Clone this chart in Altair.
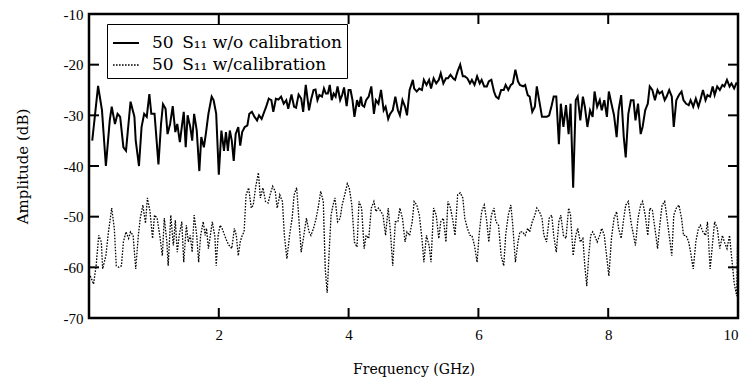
import altair as alt
import pandas as pd

# Series 1: 50 S11 without calibration (solid)
freq_wo = [0.05,0.14,0.20,0.26,0.32,0.35,0.40,0.44,0.48,0.53,0.57,0.64,0.70,0.72,0.77,0.81,0.85,0.89,0.93,0.96,
           1.01,1.07,1.11,1.14,1.18,1.21,1.25,1.29,1.33,1.36,1.40,1.43,1.46,1.49,1.52,1.56,1.59,1.62,1.66,1.70,
           1.73,1.77,1.80,1.84,1.89,1.92,1.96,2.00,2.04,2.08,2.11,2.14,2.17,2.20,2.23,2.26,2.30,2.33,2.36,2.40,
           2.44,2.47,2.51,2.55,2.59,2.62,2.66,2.70,2.73,2.77,2.81,2.84,2.88,2.92,2.96,3.00,3.04,3.07,3.12,3.16,
           3.19,3.23,3.27,3.30,3.34,3.39,3.42,3.46,3.49,3.52,3.55,3.59,3.62,3.65,3.68,3.71,3.74,3.77,3.80,3.83,
           3.87,3.90,3.93,3.97,4.00,4.03,4.06,4.09,4.13,4.16,4.19,4.21,4.24,4.27,4.31,4.35,4.39,4.42,4.46,4.50,
           4.54,4.57,4.61,4.64,4.68,4.72,4.76,4.79,4.83,4.87,4.90,4.94,4.99,5.01,5.05,5.09,5.13,5.16,5.20,5.24,
           5.27,5.31,5.35,5.39,5.42,5.46,5.50,5.53,5.57,5.61,5.64,5.68,5.72,5.76,5.79,5.83,5.87,5.90,5.94,5.98,
           6.02,6.05,6.09,6.13,6.16,6.20,6.24,6.27,6.31,6.35,6.39,6.42,6.46,6.50,6.53,6.57,6.61,6.64,6.69,6.72,
           6.76,6.79,6.83,6.87,6.90,6.94,6.98,7.01,7.05,7.09,7.13,7.16,7.20,7.24,7.27,7.31,7.35,7.39,7.42,7.46,
           7.50,7.53,7.57,7.61,7.64,7.68,7.72,7.76,7.79,7.83,7.87,7.90,7.94,7.98,8.01,8.05,8.09,8.13,8.16,8.20,
           8.24,8.27,8.31,8.35,8.39,8.42,8.46,8.50,8.53,8.57,8.61,8.64,8.68,8.72,8.76,8.79,8.83,8.87,8.90,8.94,
           8.98,9.01,9.05,9.09,9.13,9.16,9.20,9.24,9.27,9.31,9.35,9.39,9.42,9.46,9.50,9.53,9.57,9.61,9.64,9.68,
           9.72,9.76,9.79,9.83,9.87,9.90,9.94,9.98]
amp_wo = [-35.0,-24.2,-29.0,-40.0,-31.0,-28.3,-31.7,-29.7,-30.3,-36.3,-37.0,-27.3,-30.3,-35.0,-40.0,-32.3,-29.7,-30.3,-25.8,-29.7,
          -29.7,-39.7,-31.7,-27.8,-28.7,-33.7,-31.7,-28.2,-33.3,-31.7,-35.3,-32.3,-29.3,-36.3,-30.0,-32.3,-35.0,-29.7,-33.0,-41.0,
          -34.3,-36.3,-33.7,-29.7,-26.3,-27.0,-29.7,-41.7,-33.0,-37.0,-33.3,-37.0,-33.0,-35.0,-39.0,-33.7,-32.3,-36.0,-33.3,-32.3,
          -32.0,-29.7,-29.3,-30.3,-31.0,-30.0,-30.7,-29.3,-28.3,-26.7,-27.0,-29.3,-26.7,-26.9,-26.3,-27.7,-27.0,-28.7,-25.9,-28.3,
          -28.5,-25.9,-26.7,-29.3,-24.0,-29.0,-27.0,-25.0,-24.9,-27.0,-26.0,-26.3,-24.7,-25.7,-25.7,-24.0,-27.0,-25.7,-26.3,-24.3,
          -27.0,-26.0,-24.5,-28.2,-25.0,-25.0,-27.0,-30.3,-27.0,-28.3,-26.3,-28.0,-28.3,-27.0,-26.3,-24.3,-29.7,-27.0,-27.7,-25.0,
          -29.0,-28.3,-30.7,-29.7,-29.0,-26.3,-29.0,-30.0,-27.0,-28.3,-30.0,-25.0,-23.0,-24.7,-25.3,-24.7,-25.0,-23.0,-24.0,-23.0,
          -24.7,-22.7,-23.7,-23.0,-21.7,-23.7,-22.7,-22.7,-22.0,-22.7,-23.0,-21.3,-20.0,-22.3,-22.3,-22.7,-23.7,-23.0,-24.0,-22.3,
          -23.7,-23.0,-24.3,-24.3,-23.3,-23.0,-25.3,-26.3,-26.7,-25.0,-25.0,-24.0,-25.0,-24.0,-23.7,-21.0,-23.3,-24.0,-24.3,-24.0,
          -26.0,-26.3,-29.3,-28.3,-24.3,-27.3,-30.3,-30.3,-30.3,-30.0,-28.0,-26.3,-26.3,-35.7,-27.7,-32.3,-28.0,-33.7,-27.7,-44.3,
          -27.0,-26.3,-31.0,-26.3,-28.3,-32.3,-29.0,-30.3,-25.3,-28.3,-27.0,-29.0,-27.0,-30.3,-25.3,-27.7,-30.0,-34.3,-29.0,-26.0,
          -34.3,-38.3,-29.7,-27.0,-27.0,-31.0,-27.7,-33.7,-32.3,-29.0,-27.7,-24.3,-25.0,-27.0,-25.0,-25.7,-25.3,-27.0,-26.3,-25.0,
          -26.3,-32.3,-27.0,-26.0,-25.3,-27.0,-27.7,-28.0,-27.0,-28.3,-26.7,-28.3,-27.0,-25.0,-27.0,-26.0,-26.3,-24.3,-26.0,-24.3,
          -25.0,-24.0,-24.3,-23.0,-24.3,-23.7,-24.7,-23.5]

# Series 2: 50 S11 with calibration (dotted)
freq_w = [0.02,0.04,0.07,0.11,0.15,0.19,0.21,0.26,0.30,0.35,0.39,0.42,0.46,0.50,0.53,0.57,0.61,0.64,0.68,0.72,
          0.76,0.79,0.83,0.87,0.90,0.94,0.98,1.01,1.05,1.09,1.13,1.16,1.20,1.22,1.26,1.30,1.33,1.36,1.39,1.43,
          1.46,1.50,1.53,1.56,1.59,1.62,1.66,1.69,1.72,1.76,1.79,1.81,1.84,1.87,1.90,1.94,1.96,1.99,2.02,2.05,
          2.09,2.13,2.16,2.20,2.24,2.27,2.30,2.33,2.36,2.39,2.42,2.46,2.50,2.53,2.57,2.61,2.64,2.68,2.72,2.76,
          2.79,2.83,2.87,2.90,2.94,2.98,3.01,3.05,3.09,3.13,3.16,3.20,3.24,3.27,3.31,3.35,3.39,3.42,3.46,3.50,
          3.53,3.57,3.61,3.64,3.67,3.70,3.73,3.76,3.79,3.83,3.87,3.90,3.94,3.98,4.01,4.05,4.09,4.13,4.16,4.20,
          4.24,4.27,4.31,4.35,4.39,4.42,4.46,4.50,4.53,4.57,4.61,4.64,4.68,4.72,4.76,4.79,4.83,4.87,4.90,4.94,
          4.98,5.01,5.05,5.09,5.13,5.16,5.20,5.24,5.27,5.31,5.35,5.39,5.42,5.46,5.50,5.53,5.57,5.61,5.64,5.68,
          5.72,5.76,5.79,5.83,5.87,5.90,5.94,5.98,6.01,6.05,6.09,6.13,6.16,6.20,6.24,6.27,6.31,6.35,6.39,6.42,
          6.46,6.50,6.53,6.57,6.61,6.64,6.68,6.72,6.76,6.79,6.83,6.87,6.90,6.94,6.98,7.01,7.05,7.09,7.13,7.16,
          7.20,7.24,7.27,7.31,7.35,7.39,7.42,7.46,7.50,7.53,7.57,7.61,7.64,7.67,7.70,7.73,7.76,7.79,7.83,7.87,
          7.90,7.94,7.98,8.01,8.05,8.09,8.13,8.16,8.20,8.24,8.27,8.31,8.35,8.39,8.42,8.46,8.50,8.53,8.57,8.61,
          8.64,8.68,8.72,8.76,8.79,8.83,8.87,8.90,8.94,8.98,9.01,9.05,9.09,9.13,9.16,9.20,9.24,9.27,9.31,9.35,
          9.39,9.42,9.46,9.50,9.53,9.57,9.61,9.64,9.68,9.72,9.76,9.79,9.83,9.87,9.90,9.94,9.98,10.0]
amp_w = [-61.7,-62.3,-63.3,-59.7,-53.7,-55.0,-60.3,-57.7,-53.0,-48.3,-52.3,-59.7,-60.0,-59.7,-55.0,-53.0,-54.3,-53.0,-53.7,-60.3,
         -53.7,-50.3,-47.7,-51.3,-46.3,-49.0,-54.3,-49.7,-50.3,-53.7,-57.7,-50.3,-55.0,-59.7,-49.7,-55.7,-50.7,-57.0,-53.7,-51.0,
         -59.0,-51.7,-55.0,-53.7,-57.0,-49.7,-53.7,-59.0,-53.7,-51.0,-53.7,-52.3,-56.3,-53.7,-51.0,-54.0,-59.7,-53.7,-51.7,-52.3,
         -53.7,-55.0,-55.7,-56.3,-52.3,-53.7,-57.7,-55.0,-53.7,-53.0,-45.7,-44.3,-48.3,-47.7,-44.0,-41.3,-46.3,-44.3,-47.0,-47.3,
         -45.7,-44.0,-45.0,-48.3,-45.7,-47.0,-53.7,-58.3,-53.7,-50.3,-45.7,-44.3,-51.7,-57.0,-53.7,-50.3,-53.0,-53.7,-52.3,-50.3,
         -48.3,-45.0,-47.0,-60.3,-65.0,-57.0,-49.7,-47.7,-46.3,-51.0,-50.3,-47.7,-45.7,-43.5,-44.3,-47.7,-55.0,-56.0,-47.0,-48.3,
         -56.3,-53.7,-54.3,-48.3,-47.0,-49.0,-48.3,-49.0,-49.7,-53.7,-48.3,-52.3,-59.7,-51.0,-51.0,-48.3,-50.3,-55.0,-53.0,-53.7,
         -51.0,-47.0,-47.7,-49.7,-54.3,-59.0,-53.7,-55.7,-59.0,-48.3,-49.7,-54.3,-51.0,-50.3,-55.0,-47.0,-48.3,-51.0,-53.7,-45.7,
         -45.3,-46.3,-50.3,-52.3,-53.7,-53.7,-55.7,-59.0,-53.7,-49.0,-47.7,-51.0,-55.0,-49.7,-48.3,-51.0,-51.7,-57.7,-59.7,-53.7,
         -49.7,-47.7,-51.7,-59.0,-55.0,-53.0,-53.0,-53.7,-52.3,-53.0,-51.0,-49.7,-48.3,-49.0,-50.3,-53.7,-55.0,-50.3,-49.7,-53.7,
         -57.0,-51.0,-49.7,-53.7,-54.3,-48.3,-49.7,-57.7,-53.7,-52.3,-55.0,-54.3,-59.7,-63.7,-57.7,-53.7,-53.0,-53.7,-55.0,-53.7,
         -52.3,-53.7,-58.3,-61.7,-54.3,-50.3,-49.0,-52.3,-54.3,-50.3,-47.7,-47.0,-51.0,-53.7,-55.7,-50.3,-47.7,-47.0,-49.7,-53.7,
         -48.3,-48.7,-52.3,-56.3,-52.3,-47.7,-47.0,-49.7,-53.7,-57.7,-49.7,-48.3,-47.7,-50.3,-53.7,-53.7,-55.0,-57.0,-60.3,-55.0,
         -52.3,-51.7,-53.0,-53.7,-51.0,-60.3,-55.0,-51.0,-52.3,-56.3,-53.7,-55.0,-56.3,-53.7,-57.7,-63.0,-65.7,-50.3]

series_names = ["50\u2002S\u2081\u2081 w/o calibration", "50\u2002S\u2081\u2081 w/calibration"]
x_label_values = [2, 4, 6, 8, 10]
x_tick_values = [2, 4, 6, 8]
y_values = [-10, -20, -30, -40, -50, -60, -70]
y_tick_values = [-20, -30, -40, -50, -60]

df_wo = pd.DataFrame({"freq": freq_wo, "amp": amp_wo, "series": series_names[0]})
df_w = pd.DataFrame({"freq": freq_w, "amp": amp_w, "series": series_names[1]})

TITLE_FONT = "DejaVu Serif"
TICK_FONT = "Liberation Serif"
W, H = 649, 304
TL = 10

xscale = alt.Scale(domain=[0, 10], nice=False, zero=False)
yscale = alt.Scale(domain=[-70, -10], nice=False, zero=False)

legend = alt.Legend(orient="none", legendX=18, legendY=10,
                    symbolType="stroke", symbolSize=676, symbolStrokeColor="black",
                    labelFont=TITLE_FONT, labelFontSize=17, labelColor="black", labelLimit=0,
                    strokeColor="black", fillColor="white", padding=5, rowPadding=-4,
                    labelOffset=12)
dash = alt.StrokeDash("series:N", title=None,
                      scale=alt.Scale(domain=series_names, range=[[1, 0], [1.6, 1.4]]),
                      legend=legend)
swidth = alt.StrokeWidth("series:N", title=None,
                         scale=alt.Scale(domain=series_names, range=[2.0, 1.3]),
                         legend=legend)

x_bottom = alt.Axis(orient="bottom", title="Frequency (GHz)", values=x_label_values,
                    ticks=False, domain=False, grid=False,
                    labelPadding=9, titlePadding=20, labelFontSize=15, titleFontSize=14,
                    labelFont=TICK_FONT, titleFont=TITLE_FONT, titleFontWeight="normal",
                    labelColor="black", titleColor="black", format="d")
y_left = alt.Axis(orient="left", title="Amplitude (dB)", values=y_values,
                  ticks=False, domain=False, grid=False,
                  labelPadding=6, titlePadding=33, labelFontSize=15, titleFontSize=15,
                  labelFont=TICK_FONT, titleFont=TITLE_FONT, titleFontWeight="normal",
                  labelColor="black", titleColor="black", labelExpr="'' + datum.value")

solid = alt.Chart(df_wo).mark_line(color="black", clip=True).encode(
    x=alt.X("freq:Q", scale=xscale, axis=x_bottom),
    y=alt.Y("amp:Q", scale=yscale, axis=y_left),
    strokeDash=dash, strokeWidth=swidth,
)
dotted = alt.Chart(df_w).mark_line(color="black", clip=True).encode(
    x=alt.X("freq:Q", scale=xscale),
    y=alt.Y("amp:Q", scale=yscale),
    strokeDash=dash, strokeWidth=swidth,
)

# inward tick marks: vertical ones from the x tick values, horizontal ones from the y tick values
xt = pd.DataFrame({"t": x_tick_values})
yt = pd.DataFrame({"t": y_tick_values})
tick_bottom = alt.Chart(xt).mark_rule(color="black", strokeWidth=2).encode(
    x=alt.X("t:Q", scale=xscale), y=alt.value(H - TL), y2=alt.value(H))
tick_top = alt.Chart(xt).mark_rule(color="black", strokeWidth=2).encode(
    x=alt.X("t:Q", scale=xscale), y=alt.value(0), y2=alt.value(TL))
tick_left = alt.Chart(yt).mark_rule(color="black", strokeWidth=2).encode(
    y=alt.Y("t:Q", scale=yscale), x=alt.value(0), x2=alt.value(TL))
tick_right = alt.Chart(yt).mark_rule(color="black", strokeWidth=2).encode(
    y=alt.Y("t:Q", scale=yscale), x=alt.value(W - TL), x2=alt.value(W))

chart = alt.layer(solid, dotted, tick_bottom, tick_top, tick_left, tick_right).properties(
    width=W, height=H,
    autosize=alt.AutoSizeParams(type="none"),
    padding={"left": 89, "top": 14, "right": 7, "bottom": 64},
).configure(background="white").configure_view(stroke="black", strokeWidth=2.5)

chart.save("out.html", embed_options={"renderer": "svg", "actions": False})
